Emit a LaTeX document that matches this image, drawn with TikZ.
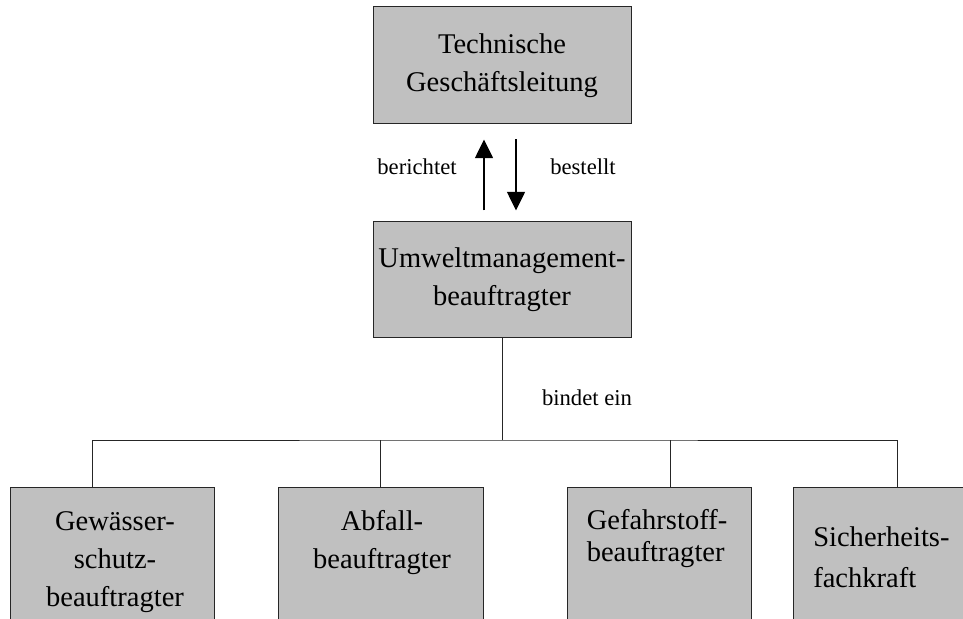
\documentclass[tikz,border=0pt]{standalone}
\usepackage{fontspec}
\setmainfont{Liberation Serif}
\usetikzlibrary{arrows.meta}
\definecolor{boxgray}{RGB}{192,192,192}
\tikzset{
  box/.style={draw=black!85, fill=boxgray, line width=0.75pt, inner sep=0pt, align=center,
    font=\fontsize{21.4pt}{28.5pt}\selectfont},
  leaf/.style={draw=black!85, fill=boxgray, line width=0.75pt, inner sep=0pt, anchor=north,
    minimum height=150pt},
  leaftext/.style={inner sep=0pt, font=\fontsize{21.4pt}{28.5pt}\selectfont},
  lbl/.style={inner sep=0pt, font=\fontsize{17pt}{20pt}\selectfont},
  flow/.style={line width=1.1pt, -{Triangle[width=13.5pt,length=14pt]}},
  tree/.style={draw=black!85, line width=0.75pt}
}
\begin{document}
\begin{tikzpicture}[x=0.75pt,y=0.75pt]
\clip (0,0) rectangle (963,618);
% management
\node[box, minimum width=193.5pt, minimum height=87.75pt] (tgl) at (502,552.5) {Technische\\Geschäftsleitung};
\node[box, minimum width=193.5pt, minimum height=87pt] (umb) at (502,338) {Umweltmanagement-\\beauftragter};
\draw[flow, shorten <=8.25pt, shorten >=11.25pt] ([xshift=-13.5pt]umb.north) -- ([xshift=-13.5pt]tgl.south);
\draw[flow, shorten <=11.25pt, shorten >=8.25pt] ([xshift=10.5pt]tgl.south) -- ([xshift=10.5pt]umb.north);
\node[lbl] (ber) at (417,451) {berichtet};
\node[lbl] (bes) at (583,451) {bestellt};
% the four officers
\node[leaf, minimum width=153pt] (gew) at (112,131) {};
\node[leaf, minimum width=153.75pt] (abf) at (380.5,131) {};
\node[leaf, minimum width=138pt] (gef) at (659,131) {};
\node[leaf, minimum width=156pt] (sfk) at (897,131) {};
\node[leaftext, align=center] (gewtxt) at (115,56) {Gewässer-\\schutz-\\beauftragter};
\node[leaftext, align=center] (abftxt) at (382,75) {Abfall-\\beauftragter};
\node[leaftext, align=left, font=\fontsize{21.4pt}{24pt}\selectfont] (geftxt) at (657,79) {Gefahrstoff-\\beauftragter};
\node[leaftext, align=left, anchor=west, font=\fontsize{21.4pt}{31pt}\selectfont] (sfktxt) at (813,60.5) {Sicherheits-\\fachkraft};
% bus
\coordinate (bus) at (502,178);
\draw[tree] (umb.south) -- (bus);
\draw[tree] ([xshift=-15pt]gew.north) |- (bus) -| (sfk.north);
\draw[tree] (abf.north) -- (abf.north |- bus);
\draw[tree] ([xshift=8.25pt]gef.north) -- ([xshift=8.25pt]gef.north |- bus);
\node[lbl] (bin) at (587,220) {bindet ein};
\end{tikzpicture}
\end{document}
